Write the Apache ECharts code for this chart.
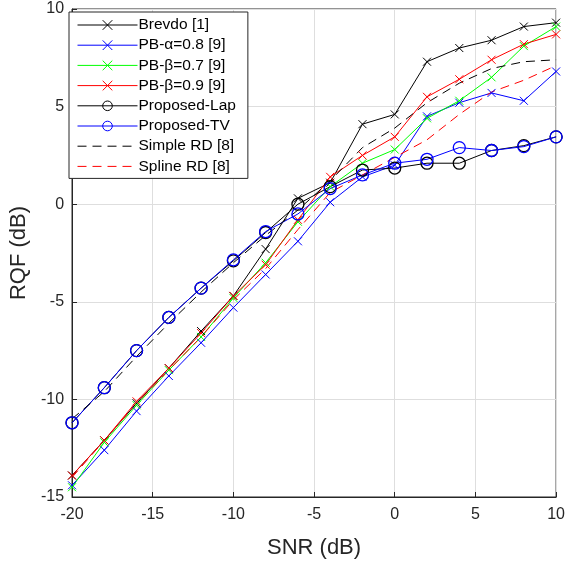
<!DOCTYPE html>
<html>
<head>
<meta charset="utf-8">
<script src="https://cdn.jsdelivr.net/npm/echarts@6/dist/echarts.min.js"></script>
<style>
  html, body { margin: 0; padding: 0; background: #fff; }
  #chart { width: 568px; height: 564px; }
</style>
</head>
<body>
<div id="chart"></div>
<script>
var snr = [-20, -18, -16, -14, -12, -10, -8, -6, -4, -2, 0, 2, 4, 6, 8, 10];

var brevdo    = [-13.9, -12.1, -10.2, -8.4, -6.5, -4.7, -2.3, 0.3, 1.1, 4.1, 4.6, 7.3, 8.0, 8.4, 9.1, 9.3];
var pbAlpha08 = [-14.4, -12.6, -10.6, -8.8, -7.1, -5.3, -3.6, -1.9, 0.1, 1.4, 2.0, 4.5, 5.2, 5.7, 5.3, 6.8];
var pbBeta07  = [-14.5, -12.2, -10.3, -8.5, -6.8, -4.8, -3.0, -0.9, 0.9, 2.1, 2.8, 4.4, 5.3, 6.5, 8.1, 9.1];
var pbBeta09  = [-13.9, -12.1, -10.1, -8.4, -6.6, -4.7, -3.1, -0.8, 1.4, 2.5, 3.45, 5.5, 6.4, 7.4, 8.2, 8.7];
var propLap   = [-11.2, -9.4, -7.5, -5.8, -4.3, -2.9, -1.45, 0.0, 0.9, 1.75, 1.85, 2.1, 2.1, 2.75, 3.0, 3.45];
var propTV    = [-11.2, -9.4, -7.5, -5.8, -4.3, -2.85, -1.4, -0.5, 0.8, 1.5, 2.1, 2.3, 2.9, 2.75, 2.95, 3.45];
var simpleRD  = [-11.0, -9.6, -7.8, -6.1, -4.5, -3.0, -1.6, -0.3, 1.2, 2.9, 3.9, 5.2, 6.2, 6.95, 7.3, 7.4];
var splineRD  = [-14.0, -12.1, -10.2, -8.5, -6.8, -4.9, -3.3, -1.3, 0.6, 1.5, 2.4, 3.3, 4.6, 5.75, 6.35, 7.1];

var font = "'Liberation Sans', Arial, sans-serif";
var cross = "path://M0,0L10,10M10,0L0,10";
var blank = "path://M0,0L1,0L1,1L0,1Z";

function pairs(ys) {
  return snr.map(function (x, i) { return [x, ys[i]]; });
}

// kind: "x" cross markers, "o" hollow circles, "dash" dashed line without markers
function mk(name, ys, color, kind) {
  var sym = kind === "x" ? cross : (kind === "o" ? "circle" : blank);
  return {
    name: name,
    type: "line",
    data: pairs(ys),
    symbol: sym,
    symbolSize: kind === "x" ? 8 : (kind === "o" ? 12 : 1),
    showSymbol: kind !== "dash",
    lineStyle: { color: color, width: 1, type: kind === "dash" ? [9, 6] : "solid" },
    itemStyle: {
      color: kind === "x" ? color : "transparent",
      borderColor: kind === "dash" ? "transparent" : color,
      borderWidth: kind === "o" ? 1.3 : (kind === "x" ? 1 : 0)
    },
    emphasis: { disabled: true },
    animation: false
  };
}

var chart = echarts.init(document.getElementById("chart"));
chart.setOption({
  backgroundColor: "#fff",
  textStyle: { fontFamily: font },
  grid: {
    left: 68, right: 10, top: 9, bottom: 67,
    show: true, borderColor: "#262626", borderWidth: 1
  },
  legend: {
    orient: "vertical",
    left: 69, top: 12,
    backgroundColor: "#fff",
    borderColor: "#262626",
    borderWidth: 1,
    padding: [5, 12, 4, 8],
    itemWidth: 60,
    itemHeight: 12,
    itemGap: 4.2,
    lineStyle: { width: 1 },
    itemStyle: { borderWidth: 1 },
    textStyle: { fontFamily: font, fontSize: 15.5, color: "#000", padding: [0, 0, 0, -4] },
    data: ["Brevdo [1]", "PB-α=0.8 [9]", "PB-β=0.7 [9]", "PB-β=0.9 [9]",
           "Proposed-Lap", "Proposed-TV", "Simple RD [8]", "Spline RD [8]"]
  },
  xAxis: {
    type: "value",
    min: -20, max: 10, interval: 5,
    name: "SNR (dB)",
    nameLocation: "middle",
    nameGap: 40,
    nameTextStyle: { fontSize: 22, color: "#262626", fontFamily: font },
    axisLine: { show: true, onZero: false, lineStyle: { color: "#262626", width: 1 } },
    axisTick: { inside: true, length: 5, lineStyle: { color: "#262626" } },
    axisLabel: { fontSize: 16, color: "#262626", margin: 10, fontFamily: font },
    splitLine: { show: true, lineStyle: { color: "#dedede", width: 1 } }
  },
  yAxis: {
    type: "value",
    min: -15, max: 10, interval: 5,
    name: "RQF (dB)",
    nameLocation: "middle",
    nameGap: 42,
    nameTextStyle: { fontSize: 22, color: "#262626", fontFamily: font },
    axisLine: { show: true, onZero: false, lineStyle: { color: "#262626", width: 1 } },
    axisTick: { inside: true, length: 5, lineStyle: { color: "#262626" } },
    axisLabel: { fontSize: 16, color: "#262626", margin: 8, fontFamily: font },
    splitLine: { show: true, lineStyle: { color: "#dedede", width: 1 } }
  },
  series: [
    mk("Brevdo [1]", brevdo, "#000000", "x"),
    mk("PB-α=0.8 [9]", pbAlpha08, "#0000ff", "x"),
    mk("PB-β=0.7 [9]", pbBeta07, "#00ff00", "x"),
    mk("PB-β=0.9 [9]", pbBeta09, "#ff0000", "x"),
    mk("Proposed-Lap", propLap, "#000000", "o"),
    mk("Proposed-TV", propTV, "#0000ff", "o"),
    mk("Simple RD [8]", simpleRD, "#000000", "dash"),
    mk("Spline RD [8]", splineRD, "#ff0000", "dash")
  ]
});
</script>
</body>
</html>
